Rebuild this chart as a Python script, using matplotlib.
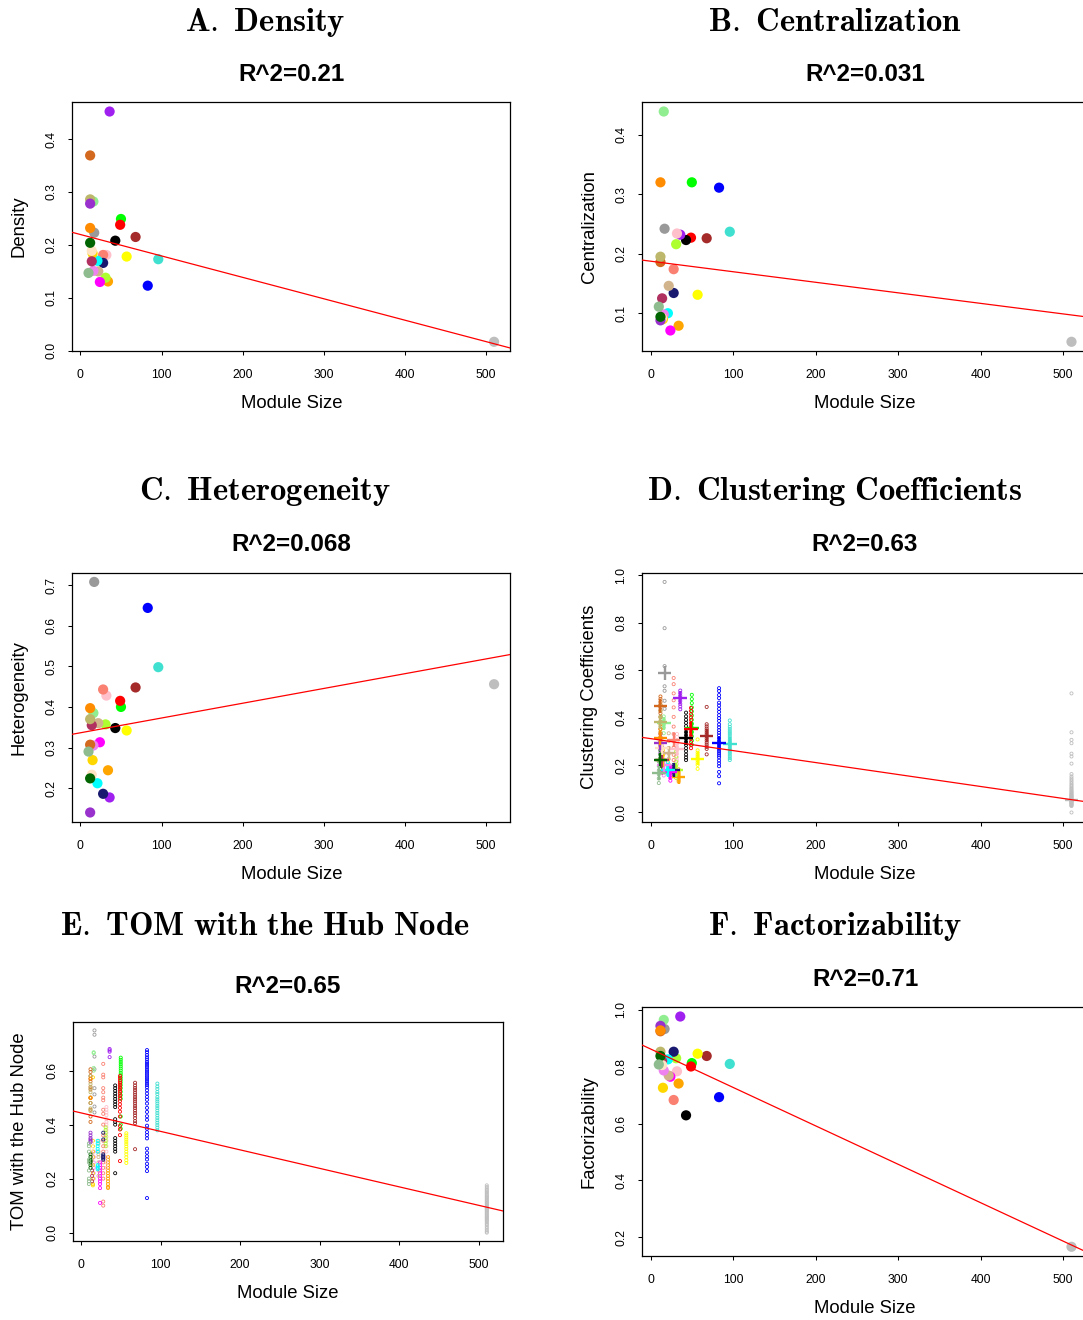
import numpy as np
import matplotlib.pyplot as plt

plt.rcParams['font.family'] = ['Liberation Sans', 'DejaVu Sans']
plt.rcParams['mathtext.fontset'] = 'cm'

# one entry per module (WGCNA colour labels), module size on the x axis
colors = ["#40E0D0", "#0000FF", "#A52A2A", "#FFFF00", "#00FF00", "#FF0000", "#000000",
          "#A020F0", "#FFA500", "#FFC0CB", "#ADFF2F", "#FA8072", "#191970", "#FF00FF",
          "#D2B48C", "#00FFFF", "#999999", "#90EE90", "#EE82EE", "#FFD700", "#B03060",
          "#FFE4C4", "#D2691E", "#BDB76B", "#9932CC", "#FF8C00", "#006400", "#8FBC8F",
          "#BEBEBE"]
module_size = [96, 83, 68, 57, 50, 49, 43, 36, 34, 32, 31, 28, 28, 24, 22, 21, 17, 16,
               16, 15, 14, 14, 12, 12, 12, 12, 12, 10, 510]

density = [0.173, 0.123, 0.215, 0.178, 0.249, 0.238, 0.208, 0.452, 0.131, 0.181, 0.138,
           0.181, 0.166, 0.130, 0.150, 0.170, 0.223, 0.282, 0.151, 0.184, 0.169, 0.189,
           0.369, 0.286, 0.278, 0.232, 0.204, 0.147, 0.017]
centralization = [0.237, 0.311, 0.226, 0.131, 0.320, 0.227, 0.223, 0.232, 0.079, 0.234,
                  0.216, 0.174, 0.134, 0.071, 0.146, 0.100, 0.242, 0.439, 0.098, 0.090,
                  0.125, 0.092, 0.186, 0.195, 0.088, 0.320, 0.094, 0.111, 0.052]
heterogeneity = [0.498, 0.644, 0.448, 0.342, 0.400, 0.415, 0.348, 0.177, 0.244, 0.428,
                 0.357, 0.443, 0.186, 0.313, 0.360, 0.212, 0.708, 0.385, 0.305, 0.269,
                 0.355, 0.233, 0.307, 0.370, 0.140, 0.397, 0.224, 0.290, 0.456]
factorizability = [0.810, 0.693, 0.838, 0.846, 0.813, 0.801, 0.629, 0.977, 0.741, 0.784,
                   0.830, 0.683, 0.853, 0.765, 0.769, 0.826, 0.933, 0.965, 0.787, 0.726,
                   0.820, 0.806, 0.925, 0.853, 0.944, 0.928, 0.838, 0.808, 0.166]

# module mean clustering coefficient (crosses) and per-gene values
cc_mean = [0.288, 0.291, 0.324, 0.227, 0.355, 0.351, 0.315, 0.484, 0.150, 0.266, 0.180,
           0.305, 0.179, 0.170, 0.250, 0.180, 0.587, 0.376, 0.200, 0.220, 0.220, 0.270,
           0.448, 0.380, 0.291, 0.313, 0.221, 0.166, 0.052]
cc_genes = [
    [0.388, 0.372, 0.361, 0.352, 0.343, 0.335, 0.327, 0.318, 0.309, 0.301, 0.294, 0.287,
     0.279, 0.271, 0.263, 0.255, 0.247, 0.238, 0.229, 0.221],
    [0.524, 0.512, 0.495, 0.482, 0.463, 0.451, 0.437, 0.424, 0.410, 0.398, 0.386, 0.371,
     0.359, 0.347, 0.336, 0.325, 0.314, 0.303, 0.294, 0.286, 0.277, 0.268, 0.259, 0.250,
     0.241, 0.232, 0.219, 0.207, 0.195, 0.171, 0.153, 0.123],
    [0.445, 0.372, 0.363, 0.354, 0.346, 0.338, 0.330, 0.321, 0.312, 0.303, 0.294, 0.285,
     0.276, 0.268, 0.245],
    [0.308, 0.262, 0.252, 0.243, 0.235, 0.227, 0.219, 0.210, 0.201, 0.184],
    [0.496, 0.478, 0.461, 0.443, 0.426, 0.409, 0.391, 0.374, 0.356, 0.339, 0.321, 0.303, 0.286],
    [0.441, 0.428, 0.414, 0.401, 0.389, 0.376, 0.363, 0.351, 0.338, 0.325, 0.312, 0.298,
     0.284, 0.271],
    [0.421, 0.405, 0.391, 0.378, 0.364, 0.351, 0.338, 0.325, 0.311, 0.298, 0.285, 0.271,
     0.258, 0.244, 0.232, 0.221],
    [0.514, 0.503, 0.492, 0.481, 0.470, 0.458, 0.447, 0.435],
    [0.182, 0.171, 0.162, 0.153, 0.145, 0.137, 0.130],
    [0.331, 0.318, 0.302, 0.289, 0.276, 0.262, 0.248, 0.233, 0.219, 0.204],
    [0.258, 0.236, 0.214, 0.196, 0.178, 0.161, 0.145],
    [0.567, 0.541, 0.502, 0.473, 0.443, 0.403, 0.362, 0.331, 0.302, 0.274, 0.243, 0.221, 0.192],
    [0.201, 0.192, 0.184, 0.176, 0.168, 0.160],
    [0.192, 0.180, 0.168, 0.157, 0.146, 0.134],
    [0.334, 0.301, 0.272, 0.248, 0.226, 0.203],
    [0.212, 0.201, 0.190, 0.180, 0.171, 0.161],
    [0.972, 0.777, 0.617, 0.532, 0.513, 0.471, 0.437],
    [0.405, 0.392, 0.381, 0.370, 0.358, 0.334],
    [0.248, 0.224, 0.201, 0.178, 0.156],
    [0.262, 0.241, 0.222, 0.203, 0.184],
    [0.281, 0.252, 0.224, 0.196, 0.168],
    [0.302, 0.284, 0.266, 0.248, 0.221],
    [0.489, 0.478, 0.466, 0.455, 0.443, 0.431, 0.418, 0.402, 0.381, 0.352, 0.318],
    [0.452, 0.428, 0.405, 0.384, 0.362, 0.340, 0.312],
    [0.331, 0.312, 0.298, 0.284, 0.268, 0.252],
    [0.372, 0.351, 0.333, 0.314, 0.296, 0.278],
    [0.261, 0.244, 0.229, 0.214, 0.198, 0.183],
    [0.214, 0.196, 0.178, 0.161, 0.143, 0.124],
    [0.502, 0.338, 0.306, 0.292, 0.248, 0.236, 0.206, 0.162, 0.152, 0.144, 0.137, 0.130,
     0.123, 0.117, 0.111, 0.105, 0.100, 0.095, 0.090, 0.086, 0.082, 0.078, 0.074, 0.071,
     0.068, 0.065, 0.062, 0.059, 0.056, 0.053, 0.051, 0.048, 0.046, 0.044, 0.041, 0.039,
     0.036, 0.033, 0.030, 0.027, 0.0],
]

# per-gene topological overlap with the module hub
tom_genes = [
    [0.552, 0.541, 0.532, 0.521, 0.513, 0.502, 0.494, 0.486, 0.478, 0.469, 0.461, 0.452,
     0.443, 0.434, 0.425, 0.416, 0.407, 0.398, 0.389, 0.379],
    [0.676, 0.668, 0.658, 0.649, 0.641, 0.632, 0.625, 0.618, 0.611, 0.603, 0.596, 0.589,
     0.582, 0.575, 0.568, 0.561, 0.553, 0.546, 0.538, 0.527, 0.515, 0.503, 0.492, 0.478,
     0.462, 0.447, 0.431, 0.418, 0.396, 0.385, 0.372, 0.361, 0.349, 0.311, 0.296, 0.283,
     0.271, 0.255, 0.243, 0.228, 0.128],
    [0.555, 0.545, 0.536, 0.528, 0.519, 0.511, 0.502, 0.494, 0.486, 0.478, 0.469, 0.461,
     0.452, 0.443, 0.434, 0.424, 0.413, 0.405, 0.309],
    [0.368, 0.360, 0.352, 0.344, 0.336, 0.328, 0.319, 0.310, 0.300, 0.290, 0.279, 0.268, 0.258],
    [0.648, 0.640, 0.632, 0.624, 0.616, 0.608, 0.600, 0.591, 0.583, 0.574, 0.565, 0.556,
     0.546, 0.535, 0.522, 0.509, 0.496, 0.430, 0.400, 0.385],
    [0.580, 0.572, 0.563, 0.555, 0.547, 0.539, 0.531, 0.523, 0.515, 0.506, 0.497, 0.487,
     0.475, 0.462, 0.448, 0.430, 0.395, 0.382, 0.361, 0.265],
    [0.545, 0.535, 0.525, 0.515, 0.505, 0.495, 0.485, 0.475, 0.465, 0.420, 0.410, 0.400,
     0.350, 0.340, 0.330, 0.320, 0.310, 0.300, 0.220],
    [0.680, 0.675, 0.670, 0.650],
    [0.280, 0.270, 0.260, 0.250, 0.240, 0.230, 0.220, 0.210, 0.200, 0.190, 0.180, 0.170, 0.165],
    [0.465, 0.455, 0.445, 0.435, 0.420, 0.410, 0.400, 0.390, 0.380, 0.370, 0.355, 0.340,
     0.320, 0.300, 0.280, 0.260, 0.240],
    [0.390, 0.380, 0.370, 0.360, 0.350, 0.340, 0.330, 0.320],
    [0.625, 0.585, 0.575, 0.535, 0.520, 0.500, 0.490, 0.455, 0.440, 0.400, 0.360, 0.340,
     0.320, 0.300, 0.280, 0.260, 0.240, 0.220, 0.200, 0.115, 0.100],
    [0.370, 0.345, 0.290, 0.285, 0.280, 0.275, 0.270],
    [0.260, 0.250, 0.240, 0.230, 0.220, 0.210, 0.200, 0.190, 0.180, 0.165, 0.110],
    [0.340, 0.330, 0.300, 0.290, 0.280, 0.260, 0.230, 0.210],
    [0.340, 0.330, 0.320, 0.310, 0.300, 0.250, 0.245, 0.240, 0.235],
    [0.749, 0.733, 0.652, 0.605, 0.535, 0.512, 0.467, 0.445],
    [0.668, 0.665, 0.610, 0.600],
    [0.300, 0.280, 0.260, 0.240, 0.220, 0.200],
    [0.575, 0.340, 0.320, 0.300, 0.280, 0.250, 0.220, 0.200, 0.180, 0.175],
    [0.290, 0.270, 0.250, 0.230, 0.210, 0.190],
    [0.330, 0.310, 0.290, 0.270, 0.250],
    [0.605, 0.595, 0.580, 0.570, 0.560, 0.540, 0.530, 0.500, 0.480, 0.455, 0.430, 0.410],
    [0.580, 0.550, 0.535, 0.520, 0.500, 0.480, 0.460, 0.450],
    [0.370, 0.360, 0.350, 0.345, 0.340, 0.335],
    [0.570, 0.500, 0.498],
    [0.290, 0.280, 0.270, 0.265, 0.260, 0.250, 0.240],
    [0.330, 0.320, 0.300, 0.270, 0.260, 0.230, 0.200, 0.190, 0.180],
    [0.175, 0.169, 0.163, 0.158, 0.153, 0.149, 0.144, 0.139, 0.135, 0.131, 0.127, 0.122,
     0.118, 0.114, 0.110, 0.106, 0.102, 0.098, 0.094, 0.090, 0.086, 0.083, 0.079, 0.075,
     0.071, 0.067, 0.063, 0.059, 0.055, 0.051, 0.047, 0.043, 0.038, 0.033, 0.028, 0.022,
     0.016, 0.010, 0.004, 0.0],
]

r2_text = ["R^2=0.21", "R^2=0.031", "R^2=0.068", "R^2=0.63", "R^2=0.65", "R^2=0.71"]
titles = ["A.\\ Density", "B.\\ Centralization", "C.\\ Heterogeneity",
          "D.\\ Clustering\\ Coefficients", "E.\\ TOM\\ with\\ the\\ Hub\\ Node",
          "F.\\ Factorizability"]
ylabels = ["Density", "Centralization", "Heterogeneity", "Clustering Coefficients",
           "TOM with the Hub Node", "Factorizability"]
yticks = [[0.0, 0.1, 0.2, 0.3, 0.4], [0.1, 0.2, 0.3, 0.4], [0.2, 0.3, 0.4, 0.5, 0.6, 0.7],
          [0.0, 0.2, 0.4, 0.6, 0.8, 1.0], [0.0, 0.2, 0.4, 0.6], [0.2, 0.4, 0.6, 0.8, 1.0]]
xticks = [0, 100, 200, 300, 400, 500]

W, H = 1083, 1320
fig = plt.figure(figsize=(W / 100, H / 100), dpi=100)

# plot boxes in pixels: left, top, right, bottom
boxes = [(72.3, 102.3, 510.3, 351.0), (642.3, 102.3, 1088.0, 351.0),
         (72.3, 572.7, 510.3, 821.7), (642.3, 572.7, 1088.0, 821.7),
         (73.0, 1022.3, 502.7, 1240.7), (642.3, 1007.3, 1088.0, 1256.0)]
title_xy = [(265, 31), (835, 31), (265, 500), (835, 500), (265, 935), (835, 935)]
r2_y = [81, 81, 551, 551, 993, 986]


def r_lim(v):
    lo, hi = min(v), max(v)
    d = (hi - lo) * 0.04
    return lo - d, hi + d


def fx(px):
    return px / W


def fy(py):
    return 1 - py / H


x = np.array(module_size, dtype=float)
panel_y = [density, centralization, heterogeneity, None, None, factorizability]

for i in range(6):
    l, t, r, b = boxes[i]
    ax = fig.add_axes([fx(l), fy(b), (r - l) / W, (b - t) / H])

    if i == 3:
        gx = np.concatenate([[s] * len(g) for s, g in zip(module_size, cc_genes)])
        gy = np.concatenate(cc_genes)
        ax.scatter(gx, gy, s=5, facecolors='none', linewidths=0.6,
                   edgecolors=np.repeat(colors, [len(g) for g in cc_genes]), zorder=2)
        ax.scatter(x, cc_mean, s=95, marker='+', c=colors, linewidths=1.7, zorder=3)
        coef = np.polyfit(x, cc_mean, 1, w=np.sqrt(x))
        ally = np.concatenate([gy, cc_mean])
    elif i == 4:
        gx = np.concatenate([[s] * len(g) for s, g in zip(module_size, tom_genes)])
        gy = np.concatenate(tom_genes)
        ax.scatter(gx, gy, s=5, facecolors='none', linewidths=0.6,
                   edgecolors=np.repeat(colors, [len(g) for g in tom_genes]), zorder=2)
        tom_mean = [np.mean(g) for g in tom_genes]
        coef = np.polyfit(x, tom_mean, 1, w=np.sqrt(x))
        ally = gy
    else:
        y = np.array(panel_y[i])
        ax.scatter(x, y, s=54, c=colors, edgecolors='none', zorder=2)
        coef = np.polyfit(x, y, 1)
        ally = y

    ax.set_xlim(r_lim(x))
    ax.set_ylim(r_lim(ally))
    xx = np.array([-50, 600])
    ax.plot(xx, np.polyval(coef, xx), color='red', lw=0.9, zorder=4)

    ax.set_xticks(xticks)
    ax.set_yticks(yticks[i])
    ax.set_yticklabels([f"{v:.1f}" for v in yticks[i]], rotation=90, va='center')
    ax.tick_params(length=3.2, width=0.75, labelsize=8.7, direction='out')
    ax.tick_params(axis='x', pad=10)
    ax.tick_params(axis='y', pad=7.5)
    for sp in ax.spines.values():
        sp.set_linewidth(0.9)

    cx = (l + r) / 2 if i % 2 == 0 else 865
    fig.text(fx(title_xy[i][0]), fy(title_xy[i][1]), "$\\mathbf{" + titles[i] + "}$",
             ha='center', va='baseline', fontsize=23.5)
    fig.text(fx(cx), fy(r2_y[i]), r2_text[i], ha='center', va='baseline',
             fontsize=17.5, fontweight='bold')
    fig.text(fx(cx), fy(b + 57), "Module Size", ha='center', va='baseline', fontsize=13.3)
    fig.text(fx(l - 53), fy((t + b) / 2), ylabels[i], ha='center', va='center',
             rotation=90, fontsize=13.3)

fig.savefig("out.png", dpi=100)
